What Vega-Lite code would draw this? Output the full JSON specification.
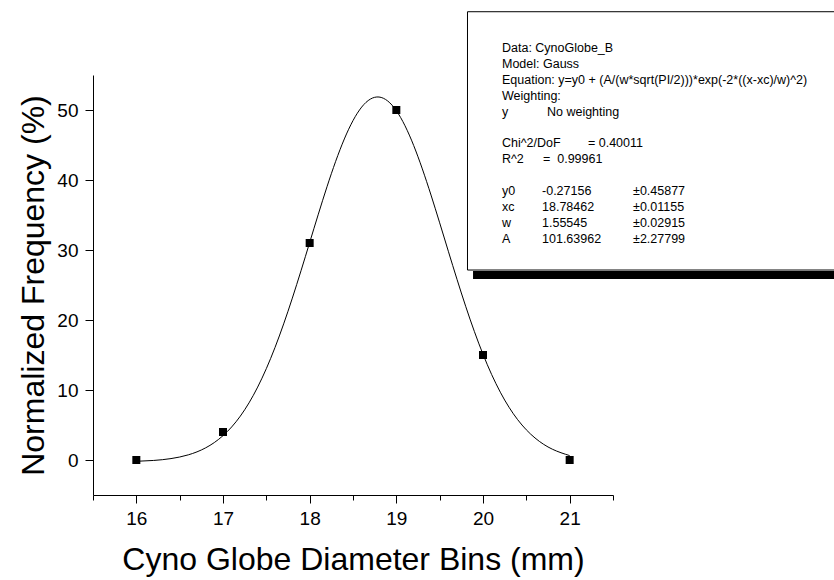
{
  "$schema": "https://vega.github.io/schema/vega-lite/v6.json",
  "width": 520,
  "height": 420,
  "autosize": "none",
  "padding": {"left": 93, "top": 75, "right": 221, "bottom": 85},
  "background": "white",
  "config": {
    "view": {"stroke": null},
    "font": "Liberation Sans",
    "axis": {"grid": false, "domainColor": "black", "tickColor": "black", "labelColor": "black", "titleColor": "black", "labelFont": "Liberation Sans", "titleFont": "Liberation Sans", "titleFontWeight": "normal", "labelFontSize": 19, "titleFontSize": 32, "domainWidth": 1, "tickWidth": 1, "labelFlush": false, "labelOverlap": false}
  },
  "datasets": {
    "points": [
      {"bin": 16, "freq": 0},
      {"bin": 17, "freq": 4},
      {"bin": 18, "freq": 31},
      {"bin": 19, "freq": 50},
      {"bin": 20, "freq": 15},
      {"bin": 21, "freq": 0}
    ],
    "fit": [
      {"bin": 16.0, "freq": -0.186},
      {"bin": 16.2, "freq": -0.063},
      {"bin": 16.4, "freq": 0.202},
      {"bin": 16.6, "freq": 0.737},
      {"bin": 16.8, "freq": 1.738},
      {"bin": 17.0, "freq": 3.476},
      {"bin": 17.2, "freq": 6.269},
      {"bin": 17.4, "freq": 10.416},
      {"bin": 17.6, "freq": 16.072},
      {"bin": 17.8, "freq": 23.123},
      {"bin": 18.0, "freq": 31.070},
      {"bin": 18.2, "freq": 39.036},
      {"bin": 18.4, "freq": 45.863},
      {"bin": 18.6, "freq": 50.416},
      {"bin": 18.8, "freq": 51.855},
      {"bin": 19.0, "freq": 49.904},
      {"bin": 19.2, "freq": 44.935},
      {"bin": 19.4, "freq": 37.852},
      {"bin": 19.6, "freq": 29.823},
      {"bin": 19.8, "freq": 21.963},
      {"bin": 20.0, "freq": 15.105},
      {"bin": 20.2, "freq": 9.681},
      {"bin": 20.4, "freq": 5.760},
      {"bin": 20.6, "freq": 3.148},
      {"bin": 20.8, "freq": 1.543},
      {"bin": 21.0, "freq": 0.630}
    ]
  },
  "layer": [
    {
      "data": {"name": "fit"},
      "mark": {"type": "line", "color": "black", "strokeWidth": 1, "interpolate": "natural"},
      "encoding": {
        "x": {
          "field": "bin", "type": "quantitative",
          "scale": {"domain": [15.5, 21.5], "nice": false, "zero": false},
          "axis": {
            "title": "Cyno Globe Diameter Bins (mm)",
            "values": [15.5, 16, 16.5, 17, 17.5, 18, 18.5, 19, 19.5, 20, 20.5, 21, 21.5],
            "labelExpr": "datum.value % 1 === 0 ? format(datum.value, 'd') : ''",
            "tickSize": {"condition": {"test": "datum.value % 1 !== 0", "value": 5}, "value": 8},
            "labelPadding": 6,
            "titlePadding": 16
          }
        },
        "y": {
          "field": "freq", "type": "quantitative",
          "scale": {"domain": [-5, 55], "nice": false, "zero": false},
          "axis": {
            "title": "Normalized Frequency (%)",
            "values": [0, 5, 10, 15, 20, 25, 30, 35, 40, 45, 50, 55],
            "labelExpr": "datum.value % 10 === 0 ? format(datum.value, 'd') : ''",
            "tickSize": {"condition": {"test": "datum.value % 10 !== 0", "value": 4}, "value": 8},
            "labelPadding": 7,
            "titlePadding": 6
          }
        }
      }
    },
    {
      "data": {"name": "points"},
      "mark": {"type": "point", "shape": "square", "filled": true, "color": "black", "size": 64, "opacity": 1},
      "encoding": {
        "x": {"field": "bin", "type": "quantitative"},
        "y": {"field": "freq", "type": "quantitative"}
      }
    },
    {
      "data": {"values": [{}]},
      "mark": {"type": "rect", "fill": "black"},
      "encoding": {
        "x": {"datum": 19.885}, "x2": {"datum": 25},
        "y": {"datum": 27.0}, "y2": {"datum": 25.86}
      }
    },
    {
      "data": {"values": [{}]},
      "mark": {"type": "rect", "fill": "white", "stroke": "black", "strokeWidth": 1},
      "encoding": {
        "x": {"datum": 19.821}, "x2": {"datum": 25},
        "y": {"datum": 64.04}, "y2": {"datum": 27.14}
      }
    },
    {
      "data": {"values": [{}]},
      "mark": {"type": "text", "align": "left", "baseline": "alphabetic", "fontSize": 12.5, "lineHeight": 15.9, "color": "black",
        "text": ["Data: CynoGlobe_B", "Model: Gauss", "Equation: y=y0 + (A/(w*sqrt(PI/2)))*exp(-2*((x-xc)/w)^2)", "Weighting:", "y"]},
      "encoding": {"x": {"datum": 20.219}, "y": {"datum": 58.286}}
    },
    {
      "data": {"values": [{}]},
      "mark": {"type": "text", "align": "left", "baseline": "alphabetic", "fontSize": 12.5, "lineHeight": 15.9, "color": "black",
        "text": ["Chi^2/DoF", "R^2"]},
      "encoding": {"x": {"datum": 20.219}, "y": {"datum": 44.657}}
    },
    {
      "data": {"values": [{}]},
      "mark": {"type": "text", "align": "left", "baseline": "alphabetic", "fontSize": 12.5, "lineHeight": 15.9, "color": "black",
        "text": ["y0", "xc", "w", "A"]},
      "encoding": {"x": {"datum": 20.219}, "y": {"datum": 37.843}}
    },
    {
      "data": {"values": [{}]},
      "mark": {"type": "text", "align": "left", "baseline": "alphabetic", "fontSize": 12.5, "color": "black", "text": "No weighting"},
      "encoding": {"x": {"datum": 20.738}, "y": {"datum": 49.2}}
    },
    {
      "data": {"values": [{}]},
      "mark": {"type": "text", "align": "left", "baseline": "alphabetic", "fontSize": 12.5, "color": "black", "text": "= 0.40011"},
      "encoding": {"x": {"datum": 21.211}, "y": {"datum": 44.657}}
    },
    {
      "data": {"values": [{}]},
      "mark": {"type": "text", "align": "left", "baseline": "alphabetic", "fontSize": 12.5, "color": "black", "text": "=\u00a0 0.99961"},
      "encoding": {"x": {"datum": 20.692}, "y": {"datum": 42.386}}
    },
    {
      "data": {"values": [{}]},
      "mark": {"type": "text", "align": "left", "baseline": "alphabetic", "fontSize": 12.5, "lineHeight": 15.9, "color": "black",
        "text": ["-0.27156", "18.78462", "1.55545", "101.63962"]},
      "encoding": {"x": {"datum": 20.681}, "y": {"datum": 37.843}}
    },
    {
      "data": {"values": [{}]},
      "mark": {"type": "text", "align": "left", "baseline": "alphabetic", "fontSize": 12.5, "lineHeight": 15.9, "color": "black",
        "text": ["±0.45877", "±0.01155", "±0.02915", "±2.27799"]},
      "encoding": {"x": {"datum": 21.731}, "y": {"datum": 37.843}}
    }
  ]
}
